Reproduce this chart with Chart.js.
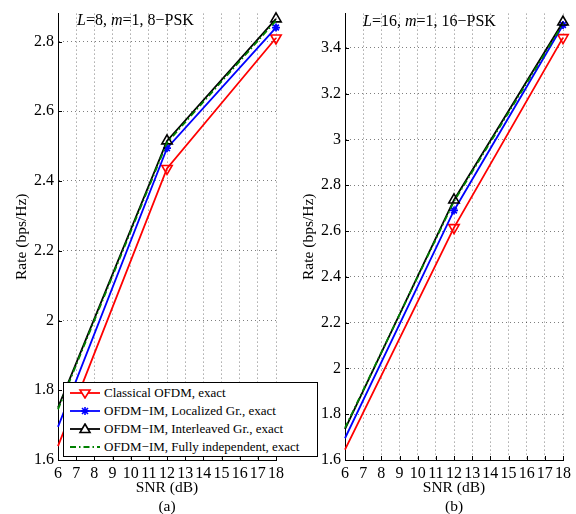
<!DOCTYPE html>
<html>
<head>
<meta charset="utf-8">
<script src="https://cdn.jsdelivr.net/npm/chart.js@4.4.0/dist/chart.umd.min.js"></script>
<style>
  body { margin: 0; background: #fff; }
  #wrap { position: relative; width: 576px; height: 514px; overflow: hidden; font-family: "Liberation Serif", "Times New Roman", serif; color: #000; }
  canvas { position: absolute; top: 0; }
  .note { position: absolute; font-size: 16px; line-height: 18px; white-space: nowrap; z-index: 2; }
  #legend { position: absolute; left: 63px; top: 382px; width: 253px; height: 72px; border: 1px solid #000; background: #fff; z-index: 3; padding-top: 1px; }
  .row { height: 18px; display: flex; align-items: center; font-size: 13px; white-space: nowrap; }
  .row svg { margin-left: 6px; margin-right: 4px; flex: none; }
</style>
</head>
<body>
<div id="wrap">
  <canvas id="chartA" width="288" height="514" style="left:0"></canvas>
  <canvas id="chartB" width="288" height="514" style="left:287px"></canvas>
  <div class="note" style="left:77px; top:11px"><i>L</i>=8, <i>m</i>=1, 8&minus;PSK</div>
  <div class="note" style="left:363px; top:12px"><i>L</i>=16, <i>m</i>=1, 16&minus;PSK</div>
  <div id="legend"></div>
</div>
<script>
// data
let snr = [6, 12, 18]
let xTicks = [6, 7, 8, 9, 10, 11, 12, 13, 14, 15, 16, 17, 18]
let leftYTicks = [1.6, 1.8, 2, 2.2, 2.4, 2.6, 2.8]
let rightYTicks = [1.6, 1.8, 2, 2.2, 2.4, 2.6, 2.8, 3, 3.2, 3.4]
let seriesNames = [
  "Classical OFDM, exact",
  "OFDM\u2212IM, Localized Gr., exact",
  "OFDM\u2212IM, Interleaved Gr., exact",
  "OFDM\u2212IM, Fully independent, exact"
]
let leftClassical = [1.64, 2.436, 2.81]
let leftLocalized = [1.695, 2.494, 2.84]
let leftInterleaved = [1.75, 2.515, 2.865]
let leftFully = [1.745, 2.51, 2.86]
let rightClassical = [1.645, 2.615, 3.445]
let rightLocalized = [1.695, 2.69, 3.5]
let rightInterleaved = [1.735, 2.736, 3.513]
let rightFully = [1.74, 2.73, 3.505]

let serifFont = "'Liberation Serif', 'Times New Roman', serif"

// small inward tick marks like matlab axes
let innerTicks = {
  id: "innerTicks",
  beforeDatasetsDraw(chart) {
    let ctx = chart.ctx
    let area = chart.chartArea
    let xs = chart.scales.x
    let ys = chart.scales.y
    ctx.save()
    ctx.strokeStyle = "#000"
    ctx.lineWidth = 1
    ctx.beginPath()
    xs.ticks.forEach(function(t) {
      let px = Math.round(xs.getPixelForValue(t.value)) + 0.5
      ctx.moveTo(px, area.bottom)
      ctx.lineTo(px, area.bottom - 4)
    })
    ys.ticks.forEach(function(t) {
      let py = Math.round(ys.getPixelForValue(t.value)) + 0.5
      ctx.moveTo(area.left, py)
      ctx.lineTo(area.left + 4, py)
    })
    ctx.stroke()
    ctx.restore()
  }
}

function makeDatasets(values) {
  let markerRadius = [0, 6, 6]
  return [
    { label: seriesNames[0], data: values[0], borderColor: "#ff0000", backgroundColor: "rgba(0,0,0,0)",
      borderWidth: 1.8, pointStyle: "triangle", rotation: 180, pointRadius: markerRadius,
      pointBorderWidth: 1.6, order: 4 },
    { label: seriesNames[1], data: values[1], borderColor: "#0000ff", backgroundColor: "#0000ff",
      borderWidth: 1.8, pointStyle: "star", pointRadius: [0, 4, 4], pointBorderWidth: 1.8, order: 3 },
    { label: seriesNames[2], data: values[2], borderColor: "#000000", backgroundColor: "rgba(0,0,0,0)",
      borderWidth: 1.8, pointStyle: "triangle", pointRadius: markerRadius, pointBorderWidth: 1.6, order: 2 },
    { label: seriesNames[3], data: values[3], borderColor: "#008000", backgroundColor: "#008000",
      borderWidth: 1.8, borderDash: [6, 3, 1.5, 3], pointRadius: 0, order: 1 }
  ]
}

function makeChart(canvas, values, yTicks, yMax, tag) {
  return new Chart(canvas, {
    type: "line",
    data: { labels: snr, datasets: makeDatasets(values) },
    options: {
      responsive: false,
      animation: false,
      clip: false,
      layout: { padding: { top: 2, right: 11, left: 0, bottom: 0 } },
      plugins: { legend: { display: false }, tooltip: { enabled: false } },
      scales: {
        x: {
          type: "linear",
          min: 6,
          max: 18,
          afterBuildTicks: function(s) { s.ticks = xTicks.map(v => ({ value: v })) },
          afterFit: function(s) { s.height = 54 },
          ticks: { color: "#000", font: { family: serifFont, size: 16 }, padding: 4, maxRotation: 0, autoSkip: false },
          grid: { color: "rgba(0,0,0,0.5)", lineWidth: 1, drawTicks: false },
          border: { display: true, color: "#000", width: 1, dash: [1, 3] },
          title: { display: true, text: ["SNR (dB)", tag], color: "#000",
                   font: { family: serifFont, size: 15.5, lineHeight: 1.2 }, padding: { top: 0, bottom: -2 } }
        },
        y: {
          min: 1.6,
          max: yMax,
          afterBuildTicks: function(s) { s.ticks = yTicks.map(v => ({ value: v })) },
          afterFit: function(s) { s.width = 58 },
          ticks: { color: "#000", font: { family: serifFont, size: 16 }, padding: 4,
                   callback: function(v) { return String(+(+v).toFixed(1)) } },
          grid: { color: "rgba(0,0,0,0.5)", lineWidth: 1, drawTicks: false },
          border: { display: true, color: "#000", width: 1, dash: [1, 3] },
          title: { display: true, text: "Rate (bps/Hz)", color: "#000",
                   font: { family: serifFont, size: 15.5, lineHeight: 1.25 }, padding: { top: 12, bottom: 0 } }
        }
      }
    },
    plugins: [innerTicks]
  })
}

makeChart(document.querySelector("#chartA"),
  [leftClassical, leftLocalized, leftInterleaved, leftFully], leftYTicks, 2.88, "(a)")
makeChart(document.querySelector("#chartB"),
  [rightClassical, rightLocalized, rightInterleaved, rightFully], rightYTicks, 3.55, "(b)")

// legend drawn as html so it can run over both panels
let legendSymbols = [
  '<line x1="0" y1="6" x2="30" y2="6" stroke="#ff0000" stroke-width="1.8"/>' +
    '<polygon points="10,3 20,3 15,11" fill="#fff" stroke="#ff0000" stroke-width="1.6"/>',
  '<line x1="0" y1="6" x2="30" y2="6" stroke="#0000ff" stroke-width="1.8"/>' +
    '<path d="M15 2 V10 M11 6 H19 M12 3 L18 9 M18 3 L12 9" stroke="#0000ff" stroke-width="1.6"/>',
  '<line x1="0" y1="6" x2="30" y2="6" stroke="#000" stroke-width="1.8"/>' +
    '<polygon points="15,1 20,9.5 10,9.5" fill="#fff" stroke="#000" stroke-width="1.6"/>',
  '<line x1="0" y1="6" x2="30" y2="6" stroke="#008000" stroke-width="1.8" stroke-dasharray="6 3 1.5 3"/>'
]
let legendBox = document.querySelector("#legend")
seriesNames.forEach(function(name, i) {
  legendBox.innerHTML += '<div class="row"><svg width="30" height="12">' + legendSymbols[i] +
    '</svg><span>' + name + '</span></div>'
})
</script>
</body>
</html>
